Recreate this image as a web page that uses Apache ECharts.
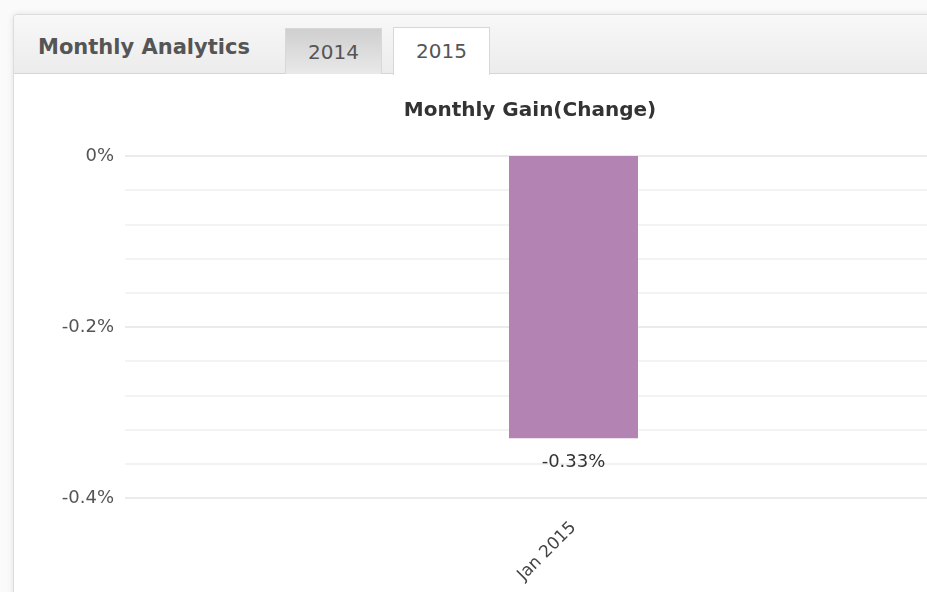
<!DOCTYPE html>
<html>
<head>
<meta charset="utf-8">
<script src="https://cdn.jsdelivr.net/npm/echarts@6/dist/echarts.min.js"></script>
<style>
  html, body { margin: 0; padding: 0; width: 927px; height: 592px; overflow: hidden; background: #fafafa; }
  #panel {
    position: absolute; left: 13px; top: 14px; width: 1040px; height: 620px;
    background: #fff; border: 1px solid #dcdcdc; border-radius: 4px 0 0 0;
    box-shadow: 0 0 6px rgba(0,0,0,0.10);
  }
  #header {
    position: absolute; left: 0; top: 0; right: 0; height: 58px;
    background: linear-gradient(#f8f8f8, #ececec);
    border-bottom: 1px solid #d6d6d6; border-radius: 4px 0 0 0;
  }
  #heading {
    position: absolute; left: 24px; top: 20px;
    font: bold 21px "DejaVu Sans", sans-serif; color: #555;
  }
  .tab {
    position: absolute; top: 13px; width: 97px; height: 46px; box-sizing: border-box;
    font: 20px "DejaVu Sans", sans-serif; color: #555; text-align: center; line-height: 46px;
    border: 1px solid #d8d8d8; border-bottom: none;
  }
  #tab2014 { left: 271px; background: linear-gradient(#cfcfcf, #e9e9e9); }
  #tab2015 { left: 379px; top: 12px; height: 48px; background: #fff; line-height: 46px; }
  #chart { position: absolute; left: 14px; top: 0; width: 1032px; height: 592px; }
</style>
</head>
<body>
<div id="panel">
  <div id="header">
    <div id="heading">Monthly Analytics</div>
    <div class="tab" id="tab2014">2014</div>
    <div class="tab" id="tab2015">2015</div>
  </div>
</div>
<div id="chart"></div>
<script>
// Monthly gain for the selected year, in percent
const months = ['Jan 2015'];
const gains = [-0.33];
const yTicks = [0, -0.2, -0.4];

const chart = echarts.init(document.getElementById('chart'), null, { renderer: 'canvas' });
const pct = v => (Math.round(v * 100) / 100) + '%';
const font = 'DejaVu Sans, Verdana, sans-serif';

chart.setOption({
  animation: false,
  title: {
    text: 'Monthly Gain(Change)',
    left: 'center',
    top: 96,
    textStyle: { fontFamily: font, fontSize: 20, fontWeight: 'bold', color: '#333' }
  },
  grid: { left: 111, right: 24, top: 156, bottom: 94 },
  xAxis: {
    type: 'category',
    data: months,
    axisLine: { show: false },
    axisTick: { show: false },
    axisLabel: { rotate: 45, margin: 27, color: '#444', fontSize: 17, fontFamily: font }
  },
  yAxis: {
    type: 'value',
    min: Math.min(...yTicks),
    max: Math.max(...yTicks),
    interval: 0.2,
    axisLine: { show: false },
    axisTick: { show: false },
    axisLabel: { formatter: pct, margin: 11, color: '#555', fontSize: 18, fontFamily: font },
    splitLine: { lineStyle: { color: '#ebebeb', width: 2 } },
    minorTick: { show: false, splitNumber: 5 },
    minorSplitLine: { show: true, lineStyle: { color: '#f3f3f3', width: 2 } }
  },
  series: [{
    type: 'bar',
    data: gains,
    barWidth: 129,
    itemStyle: { color: '#b384b3' },
    label: {
      show: true, position: 'bottom', distance: 15,
      formatter: p => pct(p.value),
      color: '#333', fontSize: 18, fontFamily: font
    }
  }]
});
</script>
</body>
</html>
